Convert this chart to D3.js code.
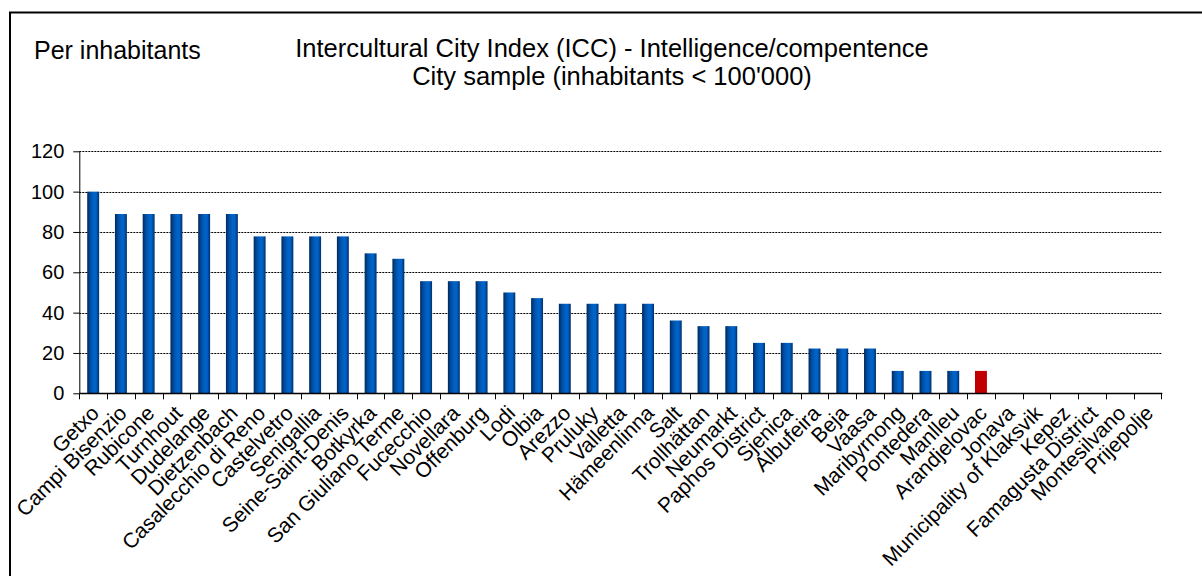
<!DOCTYPE html>
<html>
<head>
<meta charset="utf-8">
<title>ICC - Intelligence/compentence</title>
<script src="https://d3js.org/d3.v7.min.js"></script>
<style>
  body { margin: 0; background: #fff; }
  text { font-family: "Liberation Sans", Arial, sans-serif; fill: #000; }
  .grid line { stroke: #000; stroke-width: 1; stroke-dasharray: 2,1; }
</style>
</head>
<body>
<svg width="1202" height="576"></svg>
<script>
// chart data
var cities = ["Getxo", "Campi Bisenzio", "Rubicone", "Turnhout", "Dudelange", "Dietzenbach",
  "Casalecchio di Reno", "Castelvetro", "Senigallia", "Seine-Saint-Denis", "Botkyrka",
  "San Giuliano Terme", "Fucecchio", "Novellara", "Offenburg", "Lodi", "Olbia", "Arezzo",
  "Pruluky", "Valletta", "Hämeenlinna", "Salt", "Trollhättan", "Neumarkt", "Paphos District",
  "Sjenica", "Albufeira", "Beja", "Vaasa", "Maribyrnong", "Pontedera", "Manlleu",
  "Arandjelovac", "Jonava", "Municipality of Klaksvik", "Kepez", "Famagusta District",
  "Montesilvano", "Prijepolje"];
var values = [100, 88.9, 88.9, 88.9, 88.9, 88.9,
  77.8, 77.8, 77.8, 77.8, 69.4,
  66.7, 55.6, 55.6, 55.6, 50, 47.2, 44.4,
  44.4, 44.4, 44.4, 36.1, 33.3, 33.3, 25,
  25, 22.2, 22.2, 22.2, 11.1, 11.1, 11.1,
  11.1, 0, 0, 0, 0,
  0, 0];
var highlight = ["Arandjelovac"];
var yTicks = [0, 20, 40, 60, 80, 100, 120];

var svg = d3.select("svg");

// outer frame (runs off the right and bottom edges)
svg.append("rect")
    .attr("x", 10).attr("y", 12.5)
    .attr("width", 1300).attr("height", 700)
    .attr("fill", "none").attr("stroke", "#000").attr("stroke-width", 2);

var plotLeft = 79.3, plotRight = 1161.3, plotTop = 151.3, plotBottom = 393.3;

var x = d3.scaleBand()
    .domain(cities)
    .range([plotLeft, plotRight])
    .paddingInner(0.57)
    .paddingOuter(0.285);

var y = d3.scaleLinear()
    .domain([0, 120])
    .range([plotBottom, plotTop]);

// gradient for the cylinder-ish bars
var defs = svg.append("defs");
function barGrad(id, stops) {
  var g = defs.append("linearGradient").attr("id", id)
      .attr("x1", "0%").attr("x2", "100%").attr("y1", "0%").attr("y2", "0%");
  stops.forEach(function(s) {
    g.append("stop").attr("offset", s[0]).attr("stop-color", s[1]);
  });
}
barGrad("blue", [["0%", "#00285c"], ["25%", "#004c9e"], ["55%", "#0062c8"], ["75%", "#0062c6"], ["100%", "#002e68"]]);

// gridlines
svg.append("g").attr("class", "grid")
  .selectAll("line")
  .data(yTicks.filter(function(d) { return d > 0; }))
  .enter().append("line")
    .attr("x1", plotLeft).attr("x2", plotRight)
    .attr("y1", function(d) { return Math.round(y(d)) + 0.5; })
    .attr("y2", function(d) { return Math.round(y(d)) + 0.5; });

// bars
svg.append("g")
  .selectAll("rect")
  .data(cities)
  .enter().append("rect")
    .attr("x", function(d) { return x(d); })
    .attr("width", x.bandwidth())
    .attr("y", function(d, i) { return y(values[i]); })
    .attr("height", function(d, i) { return y(0) - y(values[i]); })
    .attr("fill", function(d) { return highlight.indexOf(d) >= 0 ? "#c00000" : "url(#blue)"; });

// y axis
var yAxis = d3.axisLeft(y).tickValues(yTicks).tickSize(6).tickPadding(9);
var gy = svg.append("g")
    .attr("transform", "translate(" + plotLeft + ",0)")
    .call(yAxis);
gy.select(".domain").attr("stroke", "#000").attr("d", "M0.5," + plotTop + "V" + plotBottom);
gy.selectAll(".tick line").attr("stroke", "#000");
gy.selectAll("text")
    .style("font-family", "'Liberation Sans', Arial, sans-serif")
    .style("font-size", "20px");

// x axis line and boundary ticks
var gx = svg.append("g");
gx.append("line")
    .attr("x1", plotLeft).attr("x2", plotRight + 1)
    .attr("y1", Math.round(plotBottom) + 0.5).attr("y2", Math.round(plotBottom) + 0.5)
    .attr("stroke", "#000").attr("stroke-width", 1.5);
gx.selectAll(".xt")
  .data(d3.range(cities.length + 1))
  .enter().append("line")
    .attr("class", "xt")
    .attr("x1", function(i) { return Math.round(plotLeft + i * x.step()) + 0.5; })
    .attr("x2", function(i) { return Math.round(plotLeft + i * x.step()) + 0.5; })
    .attr("y1", plotBottom).attr("y2", plotBottom + 6)
    .attr("stroke", "#000");

// rotated category labels
gx.selectAll(".xl")
  .data(cities)
  .enter().append("text")
    .attr("class", "xl")
    .attr("text-anchor", "end")
    .attr("dy", "0.35em")
    .style("font-size", "21px")
    .attr("transform", function(d) {
      return "translate(" + (x(d) + x.bandwidth() / 2 + 2) + "," + (plotBottom + 16) + ") rotate(-45)";
    })
    .text(function(d) { return d; });

// titles
svg.append("text")
    .attr("x", 34).attr("y", 59)
    .style("font-size", "25px")
    .text("Per inhabitants");

svg.append("text")
    .attr("x", 612).attr("y", 57)
    .attr("text-anchor", "middle")
    .style("font-size", "25.5px")
    .text("Intercultural City Index (ICC) - Intelligence/compentence");

svg.append("text")
    .attr("x", 612).attr("y", 85)
    .attr("text-anchor", "middle")
    .style("font-size", "25.5px")
    .text("City sample (inhabitants < 100'000)");
</script>
</body>
</html>
